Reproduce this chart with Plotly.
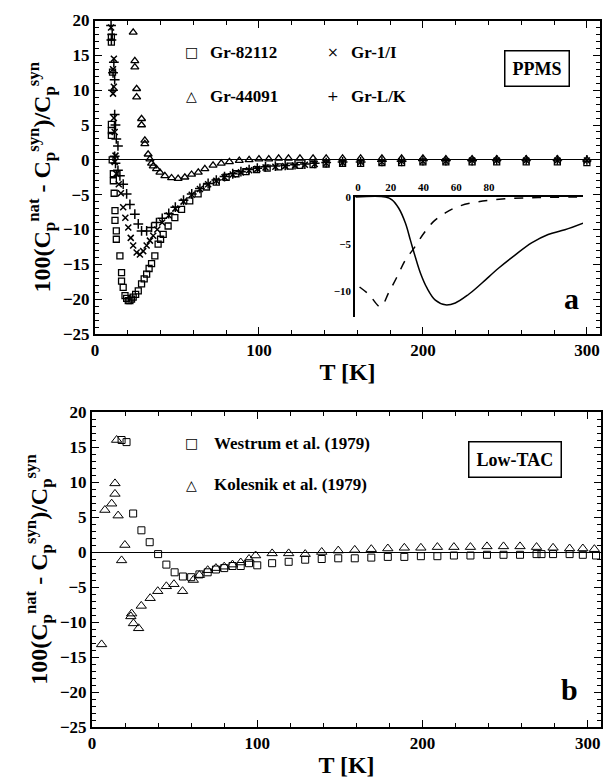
import plotly.graph_objects as go

# ---------------- data ----------------
# Panel a (PPMS)
g82112_T = [10.0, 10.0, 10.7, 10.0, 10.0, 10.0, 10.5, 11.2, 11.2, 11.7, 12.2, 12.2, 13.0, 13.0, 15.2, 16.2, 16.2,
            17.2, 18.3, 19.3, 20.3, 21.3, 22.3, 23.3, 24.8, 26.4, 28.4, 30.0, 31.5, 33.0, 34.5, 36.5, 38.5, 40.0,
            41.6, 44.6, 48.7, 52.8, 57.8, 62.9, 68, 74, 80, 86, 92, 98.5, 105, 112, 119, 125, 133, 141, 151, 162,
            175, 187, 200, 214, 230, 245, 263, 282, 300]
g82112_V = [17.6, 16.9, 12.6, 5.1, 4.2, 3.5, 0.0, -2.0, -3.0, -4.8, -7.3, -8.7, -10.2, -11.4, -13.8, -16.2, -17.4,
            -18.3, -19.5, -19.9, -20.2, -20.2, -20.0, -19.7, -19.3, -18.8, -17.8, -17.1, -16.4, -15.6, -14.9, -13.8,
            -12.1, -11.4, -10.7, -9.5, -8.3, -7.1, -5.9, -4.9, -3.9, -3.2, -2.5, -2.0, -1.7, -1.4, -1.2, -1.0, -0.9,
            -0.8, -0.7, -0.6, -0.5, -0.5, -0.4, -0.4, -0.3, -0.3, -0.3, -0.3, -0.3, -0.3, -0.4]

g44091_T = [23.3, 24.3, 24.3, 25.4, 25.4, 28.4, 28.4, 30.4, 30.4, 32.4, 33.5, 34.5, 35.5, 37.5, 39.6, 42.6, 46.7,
            50.7, 54.8, 58.9, 63, 67, 72, 77, 82, 88, 94, 100, 106, 112, 118, 125, 133, 141, 151, 162, 175, 187,
            200, 214, 230, 245, 263, 282, 300]
g44091_V = [18.3, 14.2, 13.3, 10.2, 9.0, 5.9, 5.0, 2.8, 2.3, 0.8, 0.1, -0.5, -0.9, -1.3, -1.8, -2.3, -2.6, -2.7,
            -2.5, -2.1, -1.8, -1.3, -0.8, -0.5, -0.3, -0.1, 0.0, 0.1, 0.1, 0.2, 0.2, 0.2, 0.2, 0.2, 0.2, 0.2, 0.2,
            0.2, 0.2, 0.1, 0.1, 0.1, 0.1, 0.1, 0.0]

g1I_T = [9.8, 11.5, 11.0, 11.5, 11.0, 11.5, 12.0, 12.5, 12.0, 13.0, 14.5, 15.8, 17.2, 18.5, 20.3, 21.8, 23.3, 25.4,
         27.4, 29.4, 31.5, 33.5, 35.5, 38.0, 41.0, 45.0, 49, 54, 59, 64, 69, 74, 79, 84, 89, 94, 99, 104, 110, 116,
         122, 128, 134, 141, 151, 162, 175, 187, 200, 214, 230, 245, 263, 282, 300]
g1I_V = [19.0, 14.5, 13.0, 10.5, 9.5, 6.0, 4.0, 0.6, -0.3, -2.0, -3.5, -4.8, -6.8, -8.3, -9.7, -11.2, -12.3, -13.3,
         -13.6, -13.1, -12.3, -11.6, -10.9, -10.0, -9.0, -8.0, -7.0, -6.0, -5.0, -4.2, -3.5, -3.0, -2.5, -2.1, -1.8,
         -1.5, -1.3, -1.1, -1.0, -0.9, -0.8, -0.7, -0.6, -0.5, -0.4, -0.3, -0.3, -0.2, -0.2, -0.2, -0.1, -0.1, -0.1,
         -0.1, -0.1]

gLK_T = [9.8, 10.5, 10.0, 11.5, 11.0, 12.0, 11.0, 12.0, 12.5, 13.0, 14.0, 12.0, 12.5, 14.0, 15.2, 17.2, 19.3, 21.3,
         24.3, 26.4, 28.4, 31.5, 34.5, 37.5, 41.0, 45.0, 49, 54, 59, 64, 69, 74, 79, 84, 89, 94, 99, 104, 110, 116,
         122, 128, 134, 141, 151, 162, 175, 187, 200, 214, 230, 245, 263, 282, 300]
gLK_V = [19.3, 18.0, 17.2, 14.0, 12.5, 11.5, 10.0, 6.5, 5.0, 3.0, 2.0, 0.5, -0.5, -1.5, -2.3, -3.5, -4.9, -6.4,
         -7.8, -9.2, -10.2, -10.2, -9.7, -9.0, -8.4, -7.7, -6.8, -5.8, -4.9, -4.1, -3.4, -2.9, -2.4, -2.0, -1.7,
         -1.4, -1.2, -1.0, -0.9, -0.8, -0.7, -0.6, -0.5, -0.4, -0.3, -0.3, -0.2, -0.2, -0.1, -0.1, -0.1, 0.0, 0.0,
         0.0, 0.0]

# Inset of panel a
inset_solid_T = [-1.4, 16.8, 20.8, 24.9, 29.0, 32.0, 35.0, 38.1, 42.1, 47.2, 53.3, 59.4, 67.4, 75.5, 85.7, 95.8,
                 105.9, 116.0, 126.2, 137.3]
inset_solid_V = [0.0, 0.0, -0.3, -1.2, -2.8, -4.6, -6.4, -8.1, -9.7, -11.0, -11.5, -11.3, -10.4, -9.2, -7.6, -6.2,
                 -4.9, -4.0, -3.5, -2.8]
inset_dash_T = [1.0, 6.7, 13.8, 18.8, 23.9, 29.0, 34.0, 40.1, 46.2, 53.3, 61.4, 73.5, 89.7, 110.0, 137.3]
inset_dash_V = [-9.6, -10.4, -11.7, -10.2, -8.5, -6.7, -5.5, -3.9, -2.6, -1.7, -1.0, -0.5, -0.2, -0.05, 0.0]
inset_xticks = [0, 20, 40, 60, 80]
inset_yticks = [0, -5, -10]

# Panel b (Low-TAC)
westrum_T = [17.9, 20.9, 24.9, 29.9, 34.9, 40, 45, 50, 55, 60, 65, 70, 75, 80, 85, 90, 95, 100, 109, 119, 129, 139,
             149, 159, 169, 179, 189, 199, 209, 219, 229, 239, 249, 259, 269, 272, 279, 289, 297, 305]
westrum_V = [16.0, 15.7, 5.5, 3.1, 1.4, -0.3, -1.8, -2.9, -3.5, -3.6, -3.2, -2.9, -2.5, -2.3, -2.0, -2.0, -1.6,
             -1.9, -1.6, -1.4, -1.1, -1.0, -0.9, -0.9, -0.8, -0.7, -0.7, -0.6, -0.6, -0.5, -0.5, -0.4, -0.4, -0.4,
             -0.3, -0.3, -0.3, -0.3, -0.4, -0.5]
kolesnik_T = [5.8, 7.8, 11.9, 13.9, 13.9, 14.9, 15.8, 17.9, 19.9, 23.5, 24.0, 25.1, 28.2, 29.8, 35.2, 39.8, 45.0,
              49.6, 54.8, 61.3, 65, 70, 75, 80, 85, 90, 95, 99, 109, 119, 129, 139, 149, 159, 169, 179, 189, 199,
              209, 219, 229, 239, 249, 259, 269, 279, 289, 297, 304]
kolesnik_V = [-13.2, 6.0, 6.9, 9.8, 8.3, 16.0, 5.2, -1.2, 1.0, -9.2, -8.8, -10.2, -10.9, -7.7, -6.6, -5.6, -4.9,
              -4.6, -5.6, -4.0, -3.3, -2.6, -2.3, -2.1, -1.8, -1.5, -1.0, -0.5, -0.2, -0.2, -0.3, 0.0, 0.2, 0.3, 0.4,
              0.5, 0.6, 0.6, 0.7, 0.7, 0.7, 0.8, 0.8, 0.8, 0.7, 0.6, 0.5, 0.5, 0.4]

x_ticks = [0, 100, 200, 300]
y_ticks = [-25, -20, -15, -10, -5, 0, 5, 10, 15, 20]

# ---------------- figure ----------------
FONT = "Liberation Serif"
W, H = 608, 782
ML, MR, MT, MB = 92, 5, 20, 55
PW, PH = W - ML - MR, H - MT - MB


def px_x(p):
    return (p - ML) / PW


def px_y(p):
    return (H - MB - p) / PH


fig = go.Figure()


def mk(sym, size, width=1.2):
    return dict(symbol=sym, size=size, color="black", line=dict(color="black", width=width))


# panel a traces
fig.add_trace(go.Scatter(x=g82112_T, y=g82112_V, mode="markers", marker=mk("square-open", 6, 1.3),
                         xaxis="x2", yaxis="y2", name="Gr-82112"))
fig.add_trace(go.Scatter(x=g44091_T, y=g44091_V, mode="markers", marker=mk("triangle-up-open", 7, 1.3),
                         xaxis="x2", yaxis="y2", name="Gr-44091"))
fig.add_trace(go.Scatter(x=g1I_T, y=g1I_V, mode="markers", marker=mk("x-thin", 6, 1.5),
                         xaxis="x2", yaxis="y2", name="Gr-1/I"))
fig.add_trace(go.Scatter(x=gLK_T, y=gLK_V, mode="markers", marker=mk("cross-thin", 7, 1.5),
                         xaxis="x2", yaxis="y2", name="Gr-L/K"))
# inset
fig.add_trace(go.Scatter(x=inset_solid_T, y=inset_solid_V, mode="lines",
                         line=dict(color="black", width=1.5, shape="spline"),
                         xaxis="x3", yaxis="y3"))
fig.add_trace(go.Scatter(x=inset_dash_T, y=inset_dash_V, mode="lines",
                         line=dict(color="black", width=1.5, dash="dash", shape="spline"),
                         xaxis="x3", yaxis="y3"))
# panel b traces
fig.add_trace(go.Scatter(x=westrum_T, y=westrum_V, mode="markers", marker=mk("square-open", 7, 1.0),
                         xaxis="x", yaxis="y", name="Westrum"))
fig.add_trace(go.Scatter(x=kolesnik_T, y=kolesnik_V, mode="markers", marker=mk("triangle-up-open", 9, 1.0),
                         xaxis="x", yaxis="y", name="Kolesnik"))

tickfont = dict(family=FONT, size=17, color="black", weight="bold")
titlefont = dict(family=FONT, size=24, color="black", weight="bold")
ytitle = "100(C<sub>p</sub><sup>nat</sup> - C<sub>p</sub><sup>syn</sup>)/C<sub>p</sub><sup>syn</sup>"


def xax(domain, anchor):
    return dict(domain=domain, anchor=anchor, range=[0, 308], tickvals=x_ticks, ticks="inside", ticklen=7,
                tickwidth=1.2, tickcolor="black", showline=True, linewidth=2, linecolor="black", mirror="ticks",
                showgrid=False, zeroline=False, tickfont=tickfont,
                minor=dict(dtick=20, tick0=0, ticks="inside", ticklen=4, tickcolor="black", tickwidth=1),
                title=dict(text="T [K]", font=titlefont, standoff=4))


def yax(domain, anchor):
    return dict(domain=domain, anchor=anchor, range=[-25, 20], tickvals=y_ticks, ticks="inside", ticklen=7,
                tickwidth=1.2, tickcolor="black", showline=True, linewidth=2, linecolor="black", mirror="ticks",
                showgrid=False, zeroline=True, zerolinecolor="black", zerolinewidth=1, tickfont=tickfont,
                minor=dict(dtick=1, tick0=0, ticks="inside", ticklen=4, tickcolor="black", tickwidth=1),
                title=dict(text=ytitle, font=titlefont, standoff=6))


top_lo, top_hi = px_y(334), px_y(20.5)
bot_lo, bot_hi = 0.0, px_y(412)

insfont = dict(family=FONT, size=11, color="black", weight="bold")

fig.update_layout(
    width=W, height=H, margin=dict(l=ML, r=MR, t=MT, b=MB),
    paper_bgcolor="white", plot_bgcolor="rgba(0,0,0,0)", showlegend=False,
    xaxis=xax([0, 1], "y"),
    yaxis=yax([bot_lo, bot_hi], "x"),
    xaxis2=xax([px_x(95), px_x(602)], "y2"),
    yaxis2=yax([top_lo, top_hi], "x2"),
    xaxis3=dict(domain=[px_x(356), px_x(585)], anchor="y3", side="top", range=[-1.8, 137.3],
                tickvals=inset_xticks, ticks="", showline=True, linewidth=1.5, linecolor="black",
                showgrid=False, zeroline=False, tickfont=insfont),
    yaxis3=dict(domain=[px_y(317), px_y(197)], anchor="x3", range=[-12.8, 0], tickvals=inset_yticks,
                ticks="", showline=True, linewidth=1.5, linecolor="black", showgrid=False, zeroline=False,
                tickfont=insfont),
)

legfont = dict(family=FONT, size=17, color="black")
symfont = dict(family="DejaVu Sans", size=14, color="black")


def label(px, py, text, font, xanchor="left", **kw):
    fig.add_annotation(x=px_x(px), y=px_y(py), xref="paper", yref="paper", text=text, showarrow=False,
                       xanchor=xanchor, yanchor="middle", font=font, **kw)


# legend panel a
label(192, 52, "□", symfont, "center")
label(208, 52, "<b>Gr-82112</b>", legfont)
label(192, 96, "△", symfont, "center")
label(208, 96, "<b>Gr-44091</b>", legfont)
label(334, 52, "×", symfont, "center")
label(350, 52, "<b>Gr-1/I</b>", legfont)
label(334, 96, "+", symfont, "center")
label(350, 96, "<b>Gr-L/K</b>", legfont)
label(539, 69, "<b>PPMS</b>", dict(family=FONT, size=18, color="black"), "center",
      bordercolor="black", borderwidth=1.5, borderpad=7, bgcolor="white")
label(573, 298, "<b>a</b>", dict(family=FONT, size=30, color="black"), "center")

# legend panel b
label(192, 443, "□", symfont, "center")
label(212, 443, "<b>Westrum et al. (1979)</b>", legfont)
label(192, 485, "△", symfont, "center")
label(212, 485, "<b>Kolesnik et al. (1979)</b>", legfont)
label(517, 459, "<b>Low-TAC</b>", dict(family=FONT, size=18, color="black"), "center",
      bordercolor="black", borderwidth=1.5, borderpad=7, bgcolor="white")
label(571, 689, "<b>b</b>", dict(family=FONT, size=30, color="black"), "center")

fig.write_html("out.html", config={"displayModeBar": False},
               post_script="document.body.style.margin='0';document.body.style.overflow='hidden';")
